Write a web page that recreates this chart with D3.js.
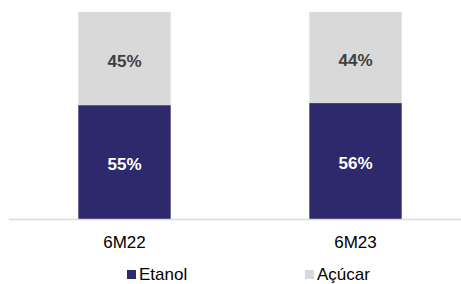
<!DOCTYPE html>
<html>
<head>
<meta charset="utf-8">
<script src="https://cdn.jsdelivr.net/npm/d3@7"></script>
<style>
  body { margin: 0; background: #fff; }
  svg { display: block; font-family: "Liberation Sans", Arial, sans-serif; }
</style>
</head>
<body>
<div id="chart"></div>
<script>
const periods = ['6M22', '6M23'];
const etanol = [55, 56];
const acucar = [45, 44];
const seriesNames = ['Etanol', 'Açúcar'];

const width = 461, height = 284;
const colors = {Etanol: '#2e286c', 'Açúcar': '#d9d9d9'};
const labelColors = {Etanol: '#ffffff', 'Açúcar': '#404040'};

const rows = periods.map((p, i) => ({period: p, Etanol: etanol[i], 'Açúcar': acucar[i]}));
const stacked = d3.stack().keys(seriesNames)(rows);

const svg = d3.select('#chart').append('svg')
    .attr('width', width)
    .attr('height', height);

const x = d3.scaleBand()
    .domain(periods)
    .range([9, 471])
    .paddingInner(0.6)
    .paddingOuter(0.3);

const y = d3.scaleLinear()
    .domain([0, 100])
    .range([219, 12]);

const layers = svg.append('g')
    .selectAll('g')
    .data(stacked)
    .join('g')
    .attr('fill', d => colors[d.key]);

layers.selectAll('rect')
    .data(d => d)
    .join('rect')
    .attr('x', d => x(d.data.period))
    .attr('width', x.bandwidth())
    .attr('y', d => y(d[1]))
    .attr('height', d => y(d[0]) - y(d[1]));

layers.selectAll('text')
    .data(d => d.map(v => ({...v, key: d.key})))
    .join('text')
    .attr('x', d => x(d.data.period) + x.bandwidth() / 2)
    .attr('y', d => (y(d[0]) + y(d[1])) / 2 + 8)
    .attr('text-anchor', 'middle')
    .attr('font-size', 17)
    .attr('font-weight', 'bold')
    .attr('fill', d => labelColors[d.key])
    .text(d => d.data[d.key] + '%');

// baseline
svg.append('line')
    .attr('x1', 9).attr('x2', width)
    .attr('y1', 219.5).attr('y2', 219.5)
    .attr('stroke', '#d9d9d9')
    .attr('stroke-width', 1.5);

// category labels
svg.append('g')
    .selectAll('text')
    .data(periods)
    .join('text')
    .attr('x', d => x(d) + x.bandwidth() / 2)
    .attr('y', 248)
    .attr('text-anchor', 'middle')
    .attr('font-size', 17)
    .attr('fill', '#000')
    .text(d => d);

// legend
const legendX = [127, 305];
const legend = svg.append('g')
    .selectAll('g')
    .data(seriesNames)
    .join('g')
    .attr('transform', (d, i) => `translate(${legendX[i]},270)`);

legend.append('rect')
    .attr('width', 9).attr('height', 9)
    .attr('fill', d => colors[d]);

legend.append('text')
    .attr('x', 12)
    .attr('y', 10)
    .attr('font-size', 17)
    .attr('fill', '#000')
    .text(d => d);
</script>
</body>
</html>
